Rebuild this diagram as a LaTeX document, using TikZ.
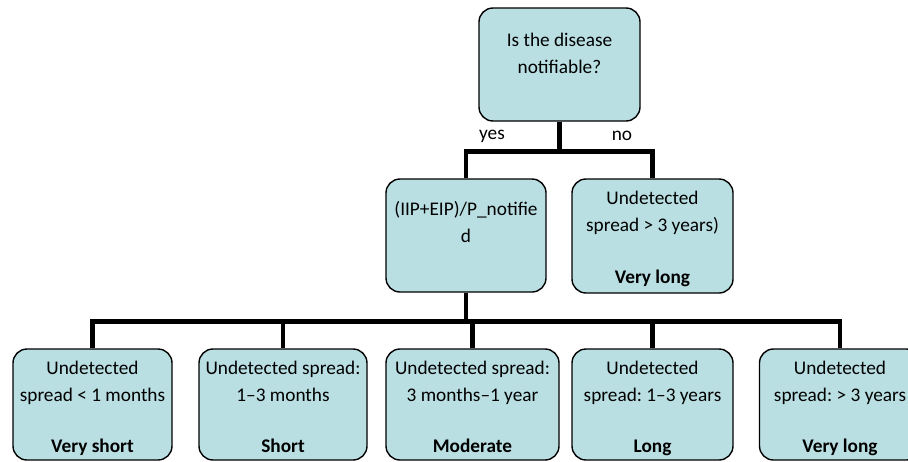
\documentclass[tikz,border=0pt]{standalone}
\usepackage{fontspec}
\setmainfont{Carlito}
\frenchspacing
\definecolor{boxfill}{RGB}{185,223,227}
\tikzset{
  dbox/.style={draw=black, line width=1.4pt, fill=boxfill, rounded corners=14pt, inner sep=0pt},
  dtext/.style={align=center, inner sep=0pt, anchor=north, font=\fontsize{19.3}{27}\selectfont},
  conn/.style={draw=black, line width=4.5pt, line join=miter},
  lbl/.style={inner sep=0pt, font=\fontsize{19.3}{27}\selectfont}
}
\begin{document}
\begin{tikzpicture}[x=1pt,y=-1pt]
\useasboundingbox (0,0) rectangle (908,461);
% boxes
\node[dbox, minimum width=161pt, minimum height=113pt] (top) at (559.5,64.5) {};
\node[dbox, minimum width=160pt, minimum height=113pt] (mid) at (466,235.5) {};
\node[dbox, minimum width=161pt, minimum height=114pt] (rt) at (652.5,236) {};
\node[dbox, minimum width=159pt, minimum height=111pt] (b1) at (92.5,404.5) {};
\node[dbox, minimum width=168pt, minimum height=111pt] (b2) at (283,404.5) {};
\node[dbox, minimum width=173pt, minimum height=111pt] (b3) at (472.5,404.5) {};
\node[dbox, minimum width=161pt, minimum height=111pt] (b4) at (652.5,404.5) {};
\node[dbox, minimum width=161pt, minimum height=111pt] (b5) at (840,404.5) {};
% texts
\node[dtext] (ttop) at ([yshift=-26pt]top.north) {Is the disease\\notifiable?};
\node[dtext] (tmid) at ([yshift=-23pt]mid.north) {(IIP+EIP)/P\_notifie\\d};
\node[dtext] (trt) at ([yshift=-13pt]rt.north) {Undetected\\spread > 3 years)\\[25pt]\textbf{Very long}};
\node[dtext] (tb1) at ([yshift=-13pt]b1.north) {Undetected\\spread < 1 months\\[24pt]\textbf{Very short}};
\node[dtext] (tb2) at ([yshift=-13pt]b2.north) {Undetected spread:\\1--3 months\\[24pt]\textbf{Short}};
\node[dtext] (tb3) at ([yshift=-13pt]b3.north) {Undetected spread:\\3 months--1 year\\[24pt]\textbf{Moderate}};
\node[dtext] (tb4) at ([yshift=-13pt]b4.north) {Undetected\\spread: 1--3 years\\[24pt]\textbf{Long}};
\node[dtext] (tb5) at ([yshift=-13pt]b5.north) {Undetected\\spread: > 3 years\\[24pt]\textbf{Very long}};
% labels
\node[lbl] (yes) at (492,136) {yes};
\node[lbl] (no) at (622,136) {no};
% connectors
\draw[conn] (top.south) -- ++(0,31);
\draw[conn] (mid.north) -- ++(0,-27) -| (rt.north);
\draw[conn] (mid.south) -- ++(0,30);
\draw[conn] (b1.north) -- ++(0,-27) -| (b5.north);
\draw[conn] (b2.north) -- ++(0,-27);
\draw[conn] (b3.north) -- ++(0,-27);
\draw[conn] (b4.north) -- ++(0,-27);
\end{tikzpicture}
\end{document}
